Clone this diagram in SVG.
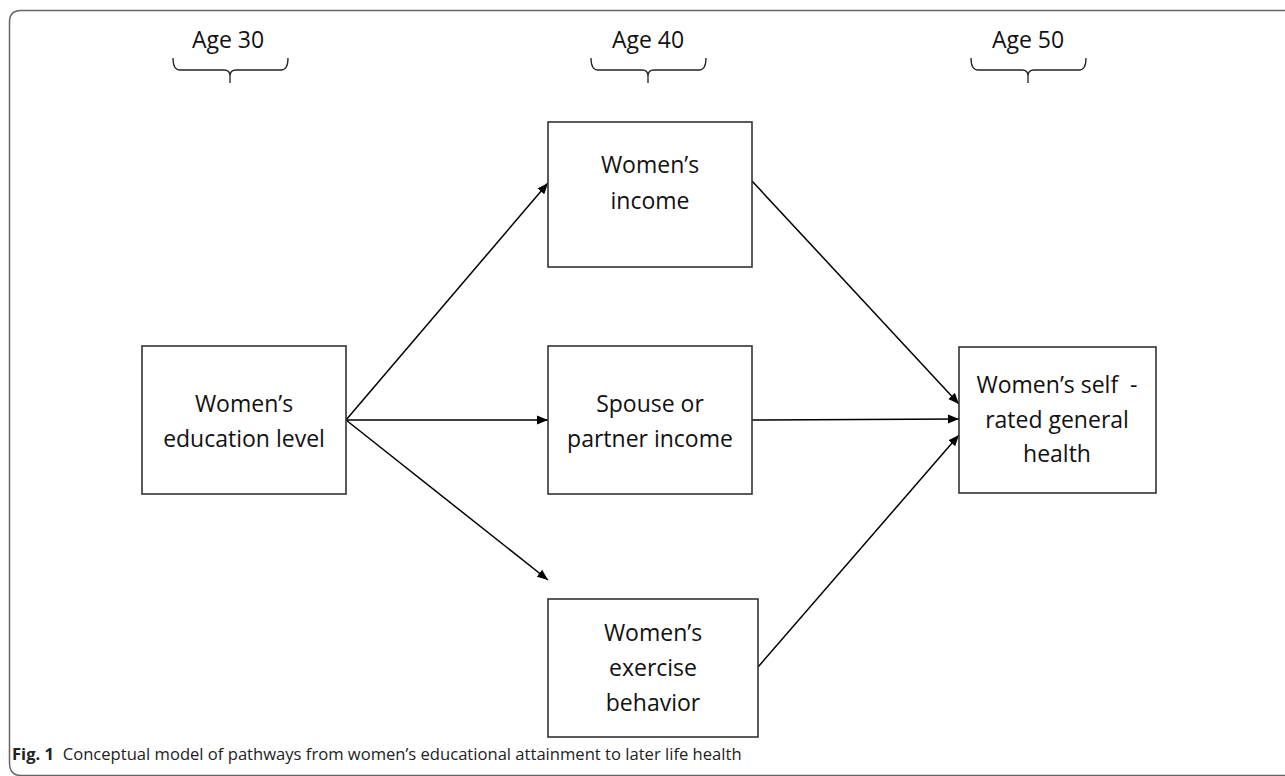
<svg xmlns="http://www.w3.org/2000/svg" width="1285" height="776" viewBox="0 0 1285 776">
<style>
.box{fill:#fff;stroke:#333;stroke-width:1.6}
.t{font-family:"Open Sans","Liberation Sans",sans-serif;font-size:23px;fill:#111;text-anchor:middle}
.edge{stroke:#000;stroke-width:1.5;fill:none;marker-end:url(#ah)}
.brace{stroke:#222;stroke-width:1.3;fill:none}
.cap{font-family:"Open Sans","Liberation Sans",sans-serif;font-size:16.6px;fill:#222}
</style>
<defs>
<marker id="ah" markerWidth="12" markerHeight="10" refX="11" refY="5" orient="auto" markerUnits="userSpaceOnUse">
<path d="M0,0.5 L11,5 L0,9.5 Z" fill="#000"/>
</marker>
</defs>
<rect width="1285" height="776" fill="#fff"/>
<path d="M1290,10.5 L21,10.5 Q9.5,10.5 9.5,22 L9.5,763 Q9.5,775.5 21,775.5 L1290,775.5" fill="none" stroke="#666" stroke-width="1.5"/>
<g id="age30">
<text class="t" x="228" y="48">Age 30</text>
<path class="brace" d="M173,58 Q173,70 180,70 L224,70 Q230,70 230,76 L230,83 M230,76 Q230,70 236,70 L281,70 Q288,70 288,58"/>
</g>
<g id="age40">
<text class="t" x="648" y="48">Age 40</text>
<path class="brace" d="M591,58 Q591,70 598,70 L642,70 Q648,70 648,76 L648,83 M648,76 Q648,70 654,70 L699,70 Q706,70 706,58"/>
</g>
<g id="age50">
<text class="t" x="1028" y="48">Age 50</text>
<path class="brace" d="M971,58 Q971,70 978,70 L1022,70 Q1028,70 1028,76 L1028,83 M1028,76 Q1028,70 1034,70 L1079,70 Q1086,70 1086,58"/>
</g>
<g id="connectors">
<line class="edge" x1="346" y1="420" x2="548" y2="183"/>
<line class="edge" x1="346" y1="420" x2="548" y2="420"/>
<line class="edge" x1="346" y1="420" x2="548" y2="580"/>
<line class="edge" x1="752" y1="181" x2="959" y2="404"/>
<line class="edge" x1="752" y1="420" x2="959" y2="419"/>
<line class="edge" x1="758" y1="667" x2="959" y2="435"/>
</g>
<g id="education">
<rect class="box" x="142" y="346" width="204" height="148"/>
<text class="t" x="244" y="412">Women’s</text>
<text class="t" x="244" y="447">education level</text>
</g>
<g id="income">
<rect class="box" x="548" y="122" width="204" height="145"/>
<text class="t" x="650" y="173">Women’s</text>
<text class="t" x="650" y="209">income</text>
</g>
<g id="spouse">
<rect class="box" x="548" y="346" width="204" height="148"/>
<text class="t" x="650" y="412">Spouse or</text>
<text class="t" x="650" y="447">partner income</text>
</g>
<g id="exercise">
<rect class="box" x="548" y="599" width="210" height="138"/>
<text class="t" x="653" y="641">Women’s</text>
<text class="t" x="653" y="676">exercise</text>
<text class="t" x="653" y="711">behavior</text>
</g>
<g id="health">
<rect class="box" x="959" y="347" width="197" height="146"/>
<text class="t" x="1057" y="393" xml:space="preserve">Women’s self  -</text>
<text class="t" x="1057" y="428">rated general</text>
<text class="t" x="1057" y="462">health</text>
</g>
<text class="cap" x="12" y="760" xml:space="preserve"><tspan font-weight="bold">Fig. 1</tspan>  Conceptual model of pathways from women’s educational attainment to later life health</text>
</svg>
